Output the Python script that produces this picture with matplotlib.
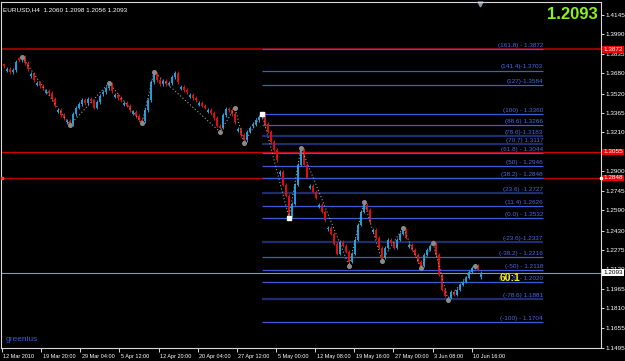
import matplotlib
matplotlib.use('Agg')
import matplotlib.pyplot as plt
import matplotlib.transforms as mtransforms
import numpy as np

# --- dane (EURUSD H4, zagęszczone) ---
closes = [
    1.3740, 1.3716, 1.3692, 1.3708, 1.3771, 1.3787, 1.3811, 1.3763, 1.3716, 1.3676,
    1.3628, 1.3604, 1.3581, 1.3565, 1.3541, 1.3525, 1.3477, 1.3422, 1.3390, 1.3350,
    1.3326, 1.3302, 1.3278, 1.3358, 1.3406, 1.3437, 1.3469, 1.3445, 1.3477, 1.3461,
    1.3406, 1.3453, 1.3501, 1.3533, 1.3565, 1.3596, 1.3541, 1.3509, 1.3485, 1.3469,
    1.3445, 1.3422, 1.3390, 1.3374, 1.3342, 1.3310, 1.3302, 1.3390, 1.3469, 1.3612,
    1.3676, 1.3628, 1.3596, 1.3620, 1.3596, 1.3604, 1.3652, 1.3684, 1.3612, 1.3573,
    1.3549, 1.3533, 1.3509, 1.3485, 1.3469, 1.3445, 1.3422, 1.3406, 1.3390, 1.3366,
    1.3326, 1.3263, 1.3247, 1.3350, 1.3398, 1.3390, 1.3358, 1.3294, 1.3239, 1.3191,
    1.3151, 1.3215, 1.3247, 1.3278, 1.3310, 1.3334, 1.3358, 1.3278, 1.3215, 1.3135,
    1.3072, 1.2992, 1.2897, 1.2794, 1.2706, 1.2548, 1.2642, 1.2794, 1.2953, 1.3072,
    1.2953, 1.2849, 1.2786, 1.2738, 1.2690, 1.2635, 1.2579, 1.2515, 1.2452, 1.2404,
    1.2324, 1.2245, 1.2340, 1.2309, 1.2261, 1.2181, 1.2245, 1.2356, 1.2476, 1.2579,
    1.2635, 1.2595, 1.2499, 1.2436, 1.2372, 1.2293, 1.2213, 1.2293, 1.2356, 1.2332,
    1.2293, 1.2356, 1.2404, 1.2436, 1.2372, 1.2317, 1.2277, 1.2237, 1.2181, 1.2150,
    1.2237, 1.2277, 1.2309, 1.2324, 1.2237, 1.2078, 1.1959, 1.1911, 1.1895, 1.1943,
    1.1919, 1.1959, 1.1999, 1.2022, 1.2054, 1.2102, 1.2134, 1.2150, 1.2118, 1.2093,
]
opens = [
    1.3752, 1.3702, 1.3716, 1.3692, 1.3708, 1.3800, 1.3787, 1.3811, 1.3763, 1.3660,
    1.3676, 1.3590, 1.3604, 1.3581, 1.3528, 1.3541, 1.3525, 1.3477, 1.3375, 1.3390,
    1.3350, 1.3290, 1.3302, 1.3278, 1.3358, 1.3406, 1.3437, 1.3469, 1.3445, 1.3477,
    1.3461, 1.3406, 1.3453, 1.3515, 1.3533, 1.3565, 1.3596, 1.3495, 1.3509, 1.3485,
    1.3430, 1.3445, 1.3422, 1.3360, 1.3374, 1.3342, 1.3310, 1.3302, 1.3390, 1.3469,
    1.3612, 1.3676, 1.3628, 1.3596, 1.3620, 1.3596, 1.3604, 1.3652, 1.3684, 1.3560,
    1.3573, 1.3549, 1.3495, 1.3509, 1.3485, 1.3430, 1.3445, 1.3422, 1.3375, 1.3390,
    1.3366, 1.3326, 1.3263, 1.3247, 1.3350, 1.3398, 1.3390, 1.3358, 1.3225, 1.3239,
    1.3191, 1.3151, 1.3215, 1.3260, 1.3278, 1.3310, 1.3334, 1.3358, 1.3278, 1.3215,
    1.3135, 1.3072, 1.2880, 1.2897, 1.2794, 1.2706, 1.2548, 1.2642, 1.2794, 1.2953,
    1.3072, 1.2953, 1.2770, 1.2786, 1.2738, 1.2620, 1.2635, 1.2579, 1.2440, 1.2452,
    1.2404, 1.2324, 1.2245, 1.2340, 1.2309, 1.2261, 1.2181, 1.2245, 1.2356, 1.2476,
    1.2579, 1.2635, 1.2595, 1.2420, 1.2436, 1.2372, 1.2293, 1.2213, 1.2293, 1.2356,
    1.2332, 1.2293, 1.2356, 1.2404, 1.2436, 1.2300, 1.2317, 1.2277, 1.2237, 1.2181,
    1.2150, 1.2237, 1.2277, 1.2340, 1.2324, 1.2237, 1.2078, 1.1959, 1.1880, 1.1895,
    1.1943, 1.1919, 1.1959, 1.1999, 1.2022, 1.2054, 1.2102, 1.2134, 1.2150, 1.2060,
]

# zigzag (numer świecy, cena)
zz_bar = [6, 22, 35, 46, 50, 72, 77, 80, 86, 95, 99, 115, 120, 126, 133, 139, 143, 148, 157]
zz_price = [1.3811, 1.3270, 1.3604, 1.3286, 1.3692, 1.3215, 1.3406, 1.3127, 1.3360,
            1.2532, 1.3088, 1.2150, 1.2658, 1.2189, 1.2452, 1.2134, 1.2332, 1.1879, 1.2150]

# poziomy Fibonacciego
fib_price = [1.3872, 1.3703, 1.3584, 1.3360, 1.3266, 1.3183, 1.3117, 1.3044, 1.2946, 1.2848,
             1.2727, 1.2626, 1.2532, 1.2337, 1.2216, 1.2118, 1.2020, 1.1881, 1.1704]
fib_text = ['(161.8) - 1.3872', '(141.4)-1.3703', '(127)-1.3584', '(100) - 1.3360',
            '(88.6) 1.3266', '(78.6)-1.3183', '(70.7) 1.3117', '(61.8) - 1.3044',
            '(50) - 1.2946', '(38.2) - 1.2848', '(23.6) -1.2727', '(11.4) 1.2626',
            '(0.0) - 1.2532', '(-23.6)-1.2337', '(-38.2) - 1.2216', '(-50) - 1.2118',
            '(-61.8) - 1.2020', '(-78.6) 1.1881', '(-100) - 1.1704']
fib_start_bar = 86

red_levels = [1.3872, 1.3055, 1.2848]
last_price = 1.2093

price_ticks = [1.4145, 1.3990, 1.3835, 1.3680, 1.3520, 1.3365, 1.3210, 1.3055, 1.2900,
               1.2745, 1.2590, 1.2430, 1.2275, 1.2120, 1.1965, 1.1810, 1.1655, 1.1495]
date_labels = ['12 Mar 2010', '19 Mar 20:00', '29 Mar 04:00', '5 Apr 12:00', '12 Apr 20:00',
               '20 Apr 04:00', '27 Apr 12:00', '5 May 00:00', '12 May 08:00', '19 May 16:00',
               '27 May 00:00', '3 Jun 08:00', '10 Jun 16:00']

title_text = 'EURUSD,H4  1.2060 1.2098 1.2056 1.2093'

# --- rysowanie ---
FONT = 'Liberation Sans'
fig = plt.figure(figsize=(6.25, 3.61), dpi=100, facecolor='black')
ax = fig.add_axes([1 / 625, 13 / 361, 600 / 625, 346 / 361], facecolor='black')

c = np.array(closes)
o = np.array(opens)
x = np.arange(len(c))
wick = 0.0013
hi = np.maximum(o, c) + wick
lo = np.minimum(o, c) - wick
cols = np.where(c >= o, '#1f9fdc', '#e01010')

# linie poziome (czerwone + aktualna cena)
ax.axhline(red_levels[0], color='#a00000', lw=1.3, zorder=1)
ax.axhline(red_levels[1], color='#d00000', lw=1.0, zorder=1)
ax.axhline(red_levels[2], color='#c00000', lw=1.0, zorder=1)
ax.axhline(last_price, color='#8898a8', lw=0.8, zorder=1)

# Fibonacci
fib_end = 179.7
dark = {'(78.6)-1.3183', '(70.7) 1.3117', '(23.6) -1.2727', '(-23.6)-1.2337', '(-78.6) 1.1881'}
for p, t in zip(fib_price, fib_text):
    if t in dark:
        ax.hlines(p, fib_start_bar, fib_end, color='#1f2d6e', lw=1.6, zorder=2)
    else:
        ax.hlines(p, fib_start_bar, fib_end, color='#3a5cd4', lw=0.9, zorder=2)
    ax.text(fib_end, p + 0.0009, t, color='#4a6ae0', fontsize=4.6, family=FONT,
            ha='right', va='bottom', zorder=3)

# świece
ax.vlines(x, lo, hi, colors=cols, lw=0.7, zorder=4)
ax.vlines(x, np.minimum(o, c), np.maximum(o, c), colors=cols, lw=1.4, zorder=4)

# zigzag
ax.plot(zz_bar, zz_price, color='#9a9a9a', lw=0.8, ls=(0, (1, 2)), zorder=5)
ax.plot(zz_bar, zz_price, 'o', color='#8a8a8a', ms=2.6, zorder=5)
ax.plot([86, 95], [1.3360, 1.2532], 's', color='white', ms=2.2, zorder=6)

ax.set_xlim(-1, 199)
ax.set_ylim(1.14977, 1.42484)

# oś cen po prawej
ax.yaxis.tick_right()
ax.set_yticks(price_ticks)
ax.set_yticklabels(['' if v in red_levels else '%.4f' % v for v in price_ticks])
ax.tick_params(axis='y', colors='white', labelsize=4.6, length=2, width=0.6, pad=1.5)
date_pos = np.arange(len(date_labels)) * 13.05 - 0.67
ax.set_xticks(date_pos)
ax.set_xticklabels(date_labels, ha='left')
ax.tick_params(axis='x', colors='white', labelsize=4.0, length=3, width=0.6, pad=1)
for lab in ax.get_xticklabels() + ax.get_yticklabels():
    lab.set_family(FONT)
for lab in ax.get_xticklabels():
    lab.set_transform(lab.get_transform() + mtransforms.ScaledTranslation(1.5 / 100, 0, fig.dpi_scale_trans))
for sp in ax.spines.values():
    sp.set_color('#d8d8d8')
    sp.set_linewidth(0.8)

# etykiety cen w ramkach
tr = mtransforms.blended_transform_factory(ax.transAxes, ax.transData)
for p in red_levels:
    ax.text(1.004, p, '%.4f' % p, transform=tr, color='white', fontsize=4.6, family=FONT,
            va='center', ha='left', clip_on=False, zorder=10,
            bbox=dict(boxstyle='square,pad=0.15', fc='#f00000', ec='none'))
ax.text(1.004, last_price, '%.4f' % last_price, transform=tr, color='black', fontsize=4.6,
        family=FONT, va='center', ha='left', clip_on=False, zorder=10,
        bbox=dict(boxstyle='square,pad=0.15', fc='white', ec='none'))
ax.plot([1.0], [red_levels[2]], 's', color='white', ms=1.8, transform=tr, clip_on=False, zorder=10)
ax.plot([0.002], [red_levels[2]], 's', color='#ff4040', ms=1.8, transform=tr, clip_on=False, zorder=10)

# teksty
ax.text(0.004, 0.985, title_text, transform=ax.transAxes, color='white', fontsize=4.6,
        family=FONT, va='top', ha='left')
ax.text(0.995, 0.985, '%.4f' % last_price, transform=ax.transAxes, color='#8cf01e',
        fontsize=12, fontweight='bold', family=FONT, va='top', ha='right')
ax.text(168.5, 1.2055, '60:1', color='#f5e61a', fontsize=7.5, fontweight='bold',
        family=FONT, va='center', ha='center', zorder=7)
ax.text(0.007, 0.025, 'greenius', transform=ax.transAxes, color='#3a5cd4', fontsize=6,
        family=FONT, va='center', ha='left')
ax.plot([158.7], [0.995], 'v', color='#8a9aaa', ms=3.5,
        transform=mtransforms.blended_transform_factory(ax.transData, ax.transAxes), clip_on=False)

fig.savefig('out.png', dpi=100, facecolor='black')
